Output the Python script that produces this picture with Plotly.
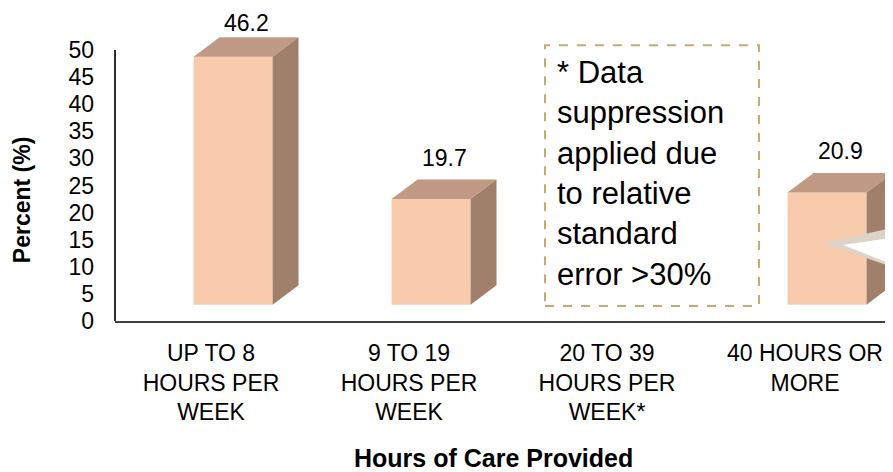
import plotly.graph_objects as go

# --- data ---
categories = [
    "UP TO 8<br>HOURS PER<br>WEEK",
    "9 TO 19<br>HOURS PER<br>WEEK",
    "20 TO 39<br>HOURS PER<br>WEEK*",
    "40 HOURS OR<br>MORE",
]
percent = [46.2, 19.7, None, 20.9]  # 20-39 h suppressed (RSE > 30%)
y_ticks = [0, 5, 10, 15, 20, 25, 30, 35, 40, 45, 50]
note_lines = ["* Data", "suppression", "applied due", "to relative", "standard", "error >30%"]

FONT = "Liberation Sans, Arial, sans-serif"
FRONT = "#F8CBAD"
TOP = "#C09A84"
SIDE = "#A0806B"

# fake 3D geometry (axis units)
X_LEFT, X_RIGHT = -0.088, 0.311
DX, DY = 0.131, 3.6
FLOOR = 3.0
K = 0.99
LABEL_MAX_Y = 54.9  # keep the tallest label inside the page

fig = go.Figure()

for i, v in enumerate(percent):
    if v is None:
        continue
    xl, xr = i + X_LEFT, i + X_RIGHT
    y0, y1 = FLOOR, FLOOR + K * v
    faces = [
        ([xl, xr, xr, xl, xl], [y0, y0, y1, y1, y0], FRONT),
        ([xl, xr, xr + DX, xl + DX, xl], [y1, y1, y1 + DY, y1 + DY, y1], TOP),
        ([xr, xr + DX, xr + DX, xr, xr], [y0, y0 + DY, y1 + DY, y1, y0], SIDE),
    ]
    for xs, ys, col in faces:
        fig.add_trace(go.Scatter(
            x=xs, y=ys, mode="lines", fill="toself", fillcolor=col,
            line=dict(width=0, color=col), hoverinfo="skip", showlegend=False,
        ))
    fig.add_annotation(
        x=(xl + xr + DX) / 2, y=min(y1 + DY + 4, LABEL_MAX_Y), text=f"{v:.1f}",
        showarrow=False, yanchor="middle",
        font=dict(family=FONT, size=23, color="#000000"),
    )

# y axis line only spans 0-50
fig.add_shape(type="line", xref="paper", yref="y", x0=0, x1=0, y0=0, y1=50,
              line=dict(color="#303030", width=2))

# suppression note box
fig.add_shape(type="rect", xref="x", yref="y", x0=1.687, x1=2.768, y0=2.77, y1=50.9,
              line=dict(color="#C8A96E", width=2, dash="dash"), fillcolor="rgba(0,0,0,0)")
fig.add_annotation(
    x=1.737, y=27.3, xref="x", yref="y", xanchor="left", yanchor="middle", align="left",
    text="<br>".join(note_lines), showarrow=False,
    font=dict(family=FONT, size=31, color="#000000"),
)

# broken callout wedge on the last bar
fig.add_shape(type="path", xref="x", yref="y",
              path="M 3.485 17.5 L 3.091 14.39 L 3.485 9.4 L 3.485 8.2 Z",
              fillcolor="#DDD3C8", line=dict(width=0))
fig.add_shape(type="path", xref="x", yref="y",
              path="M 3.485 15.6 L 3.192 14.02 L 3.485 9.8 Z",
              fillcolor="#FFFFFF", line=dict(width=0))

fig.add_annotation(
    x=-0.1183, y=22.3, xref="paper", yref="y", text="<b>Percent (%)</b>", textangle=-90,
    showarrow=False, xanchor="center", yanchor="middle",
    font=dict(family=FONT, size=23, color="#000000"),
)
fig.add_annotation(
    x=0.481, y=-0.438, xref="paper", yref="paper", text="<b>Hours of Care Provided</b>",
    showarrow=False, xanchor="center", yanchor="middle",
    font=dict(family=FONT, size=25, color="#000000"),
)

# page has an 8px body margin, so shift the plot up/left by 8px
fig.update_layout(
    width=893, height=472,
    margin=dict(l=107, r=0, t=0, b=159),
    paper_bgcolor="white", plot_bgcolor="white",
    font=dict(family=FONT, color="#000000"),
    showlegend=False,
)
fig.update_xaxes(
    range=[-0.485, 3.485], tickvals=list(range(len(categories))), ticktext=categories,
    showgrid=False, zeroline=False, showline=True, linecolor="#404040", linewidth=2,
    ticks="", ticklabelstandoff=10, tickfont=dict(family=FONT, size=23, color="#000000"),
)
fig.update_yaxes(
    range=[0, 57.75], tickvals=y_ticks, showgrid=False, zeroline=False, showline=False,
    ticks="", ticklabelstandoff=20, tickfont=dict(family=FONT, size=23, color="#000000"),
)

fig.write_html("out.html")
